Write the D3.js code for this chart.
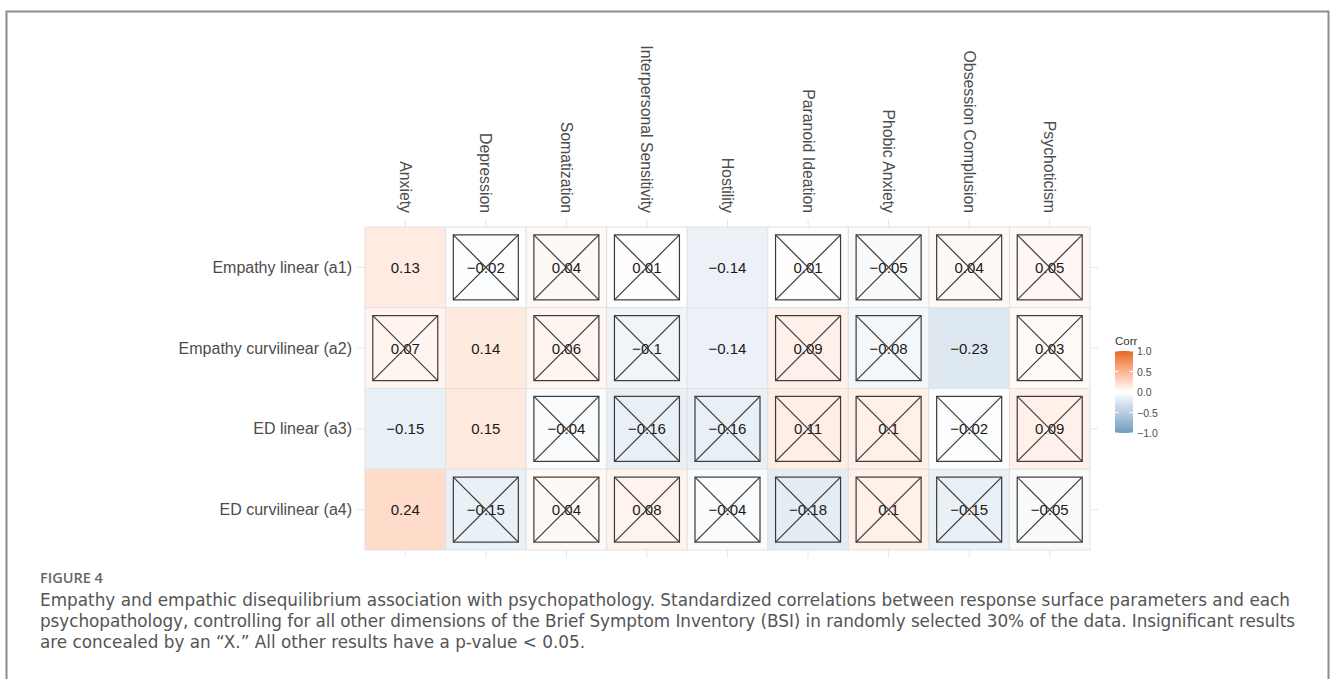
<!DOCTYPE html>
<html>
<head>
<meta charset="utf-8">
<script src="https://cdn.jsdelivr.net/npm/d3@7"></script>
<style>
  html, body { margin: 0; padding: 0; background: #ffffff; }
  svg { display: block; }
</style>
</head>
<body>
<svg id="chart" width="1330" height="679"></svg>
<script>
// Response-surface parameters (rows) and BSI dimensions (columns)
const rows = ["Empathy linear (a1)", "Empathy curvilinear (a2)", "ED linear (a3)", "ED curvilinear (a4)"];
const columns = ["Anxiety", "Depression", "Somatization", "Interpersonal Sensitivity", "Hostility",
                 "Paranoid Ideation", "Phobic Anxiety", "Obsession Complusion", "Psychoticism"];

// Standardized correlations, one array per row
const a1Values = [0.13, -0.02, 0.04, 0.01, -0.14, 0.01, -0.05, 0.04, 0.05];
const a2Values = [0.07, 0.14, 0.06, -0.1, -0.14, 0.09, -0.08, -0.23, 0.03];
const a3Values = [-0.15, 0.15, -0.04, -0.16, -0.16, 0.11, 0.1, -0.02, 0.09];
const a4Values = [0.24, -0.15, 0.04, 0.08, -0.04, -0.18, 0.1, -0.15, -0.05];

// 1 = not significant (crossed out), 0 = p < 0.05
const a1Insig = [0, 1, 1, 1, 0, 1, 1, 1, 1];
const a2Insig = [1, 0, 1, 1, 0, 1, 1, 0, 1];
const a3Insig = [0, 0, 1, 1, 1, 1, 1, 1, 1];
const a4Insig = [0, 1, 1, 1, 1, 1, 1, 1, 1];

const legendTicks = [1.0, 0.5, 0.0, -0.5, -1.0];

const captionHead = "FIGURE 4";
const captionLines = [
  "Empathy and empathic disequilibrium association with psychopathology. Standardized correlations between response surface parameters and each",
  "psychopathology, controlling for all other dimensions of the Brief Symptom Inventory (BSI) in randomly selected 30% of the data. Insignificant results",
  "are concealed by an \u201CX.\u201D All other results have a p-value < 0.05."
];

const valueRows = [a1Values, a2Values, a3Values, a4Values];
const insigRows = [a1Insig, a2Insig, a3Insig, a4Insig];
const cells = [];
rows.forEach((r, i) => columns.forEach((c, j) => {
  cells.push({ row: r, col: c, value: valueRows[i][j], insig: insigRows[i][j] === 1 });
}));

const svg = d3.select("#chart");
const axisFont = "'Liberation Sans', Arial, Helvetica, sans-serif";
const captionFont = "'DejaVu Sans', 'Open Sans', sans-serif";
const headFont = "'Open Sans', Lato, sans-serif";

// Outer frame (open at the bottom)
svg.append("path")
  .attr("d", "M6.5,679 L6.5,11.5 L1328.5,11.5 L1328.5,679")
  .attr("fill", "none")
  .attr("stroke", "#8c8c8c")
  .attr("stroke-width", 2);

const x = d3.scaleBand().domain(columns).range([365, 1090]).padding(0);
const y = d3.scaleBand().domain(rows).range([227, 550]).padding(0);
const color = d3.scaleLinear().domain([-1, 0, 1])
  .range(["#6D9EC1", "#FFFFFF", "#E46726"])
  .interpolate(d3.interpolateLab);

const fmt = v => (v < 0 ? "\u2212" : "") + String(Math.abs(v));

// Grid lines peeking out around the tiles
const gridColor = "#e6e6e6";
const ext = 8;
const g = svg.append("g");
columns.forEach(c => {
  const cx = x(c) + x.bandwidth() / 2;
  g.append("line").attr("x1", cx).attr("x2", cx).attr("y1", y.range()[0] - ext).attr("y2", y.range()[1] + ext)
    .attr("stroke", gridColor).attr("stroke-width", 1);
});
rows.forEach(r => {
  const cy = y(r) + y.bandwidth() / 2;
  g.append("line").attr("x1", x.range()[0] - ext).attr("x2", x.range()[1] + ext).attr("y1", cy).attr("y2", cy)
    .attr("stroke", gridColor).attr("stroke-width", 1);
});

// Tiles
const tiles = svg.append("g").selectAll("g").data(cells).join("g")
  .attr("transform", d => `translate(${x(d.col)},${y(d.row)})`);

tiles.append("rect")
  .attr("width", x.bandwidth())
  .attr("height", y.bandwidth())
  .attr("fill", d => color(d.value))
  .attr("stroke", "#e2e2e2")
  .attr("stroke-width", 1);

tiles.append("text")
  .attr("x", x.bandwidth() / 2)
  .attr("y", y.bandwidth() / 2)
  .attr("text-anchor", "middle")
  .attr("dominant-baseline", "central")
  .attr("font-family", axisFont)
  .attr("font-size", 15)
  .attr("fill", "#1a1a1a")
  .text(d => fmt(d.value));

// Crossed box over non-significant correlations
const box = 65;
const crossed = tiles.filter(d => d.insig).append("g")
  .attr("transform", `translate(${x.bandwidth() / 2 - box / 2},${y.bandwidth() / 2 - box / 2})`)
  .attr("stroke", "#3a3a3a").attr("stroke-width", 1.2).attr("fill", "none");
crossed.append("rect").attr("width", box).attr("height", box);
crossed.append("line").attr("x1", 0).attr("y1", 0).attr("x2", box).attr("y2", box);
crossed.append("line").attr("x1", box).attr("y1", 0).attr("x2", 0).attr("y2", box);

// Row labels
svg.append("g").selectAll("text").data(rows).join("text")
  .attr("x", 352)
  .attr("y", d => y(d) + y.bandwidth() / 2)
  .attr("text-anchor", "end")
  .attr("dominant-baseline", "central")
  .attr("font-family", axisFont)
  .attr("font-size", 16)
  .attr("fill", "#4d4d4d")
  .text(d => d);

// Column labels, rotated to read downward
svg.append("g").selectAll("text").data(columns).join("text")
  .attr("transform", d => `translate(${x(d) + x.bandwidth() / 2},213) rotate(90)`)
  .attr("text-anchor", "end")
  .attr("dominant-baseline", "central")
  .attr("font-family", axisFont)
  .attr("font-size", 15.8)
  .attr("fill", "#4d4d4d")
  .text(d => d);

// Colour bar legend
const barX = 1115, barW = 18;
const ly = d3.scaleLinear().domain([-1, 1]).range([433, 351]);
const defs = svg.append("defs");
const grad = defs.append("linearGradient").attr("id", "corrGrad")
  .attr("x1", 0).attr("y1", 1).attr("x2", 0).attr("y2", 0);
d3.range(0, 1.0001, 0.05).forEach(t => {
  grad.append("stop").attr("offset", t).attr("stop-color", color(-1 + 2 * t));
});
svg.append("rect")
  .attr("x", barX).attr("y", ly(1)).attr("width", barW).attr("height", ly(-1) - ly(1))
  .attr("fill", "url(#corrGrad)");
const lt = svg.append("g");
legendTicks.forEach(v => {
  lt.append("line").attr("x1", barX).attr("x2", barX + 3.6).attr("y1", ly(v)).attr("y2", ly(v))
    .attr("stroke", "#ffffff").attr("stroke-width", 1);
  lt.append("line").attr("x1", barX + barW - 3.6).attr("x2", barX + barW).attr("y1", ly(v)).attr("y2", ly(v))
    .attr("stroke", "#ffffff").attr("stroke-width", 1);
});
svg.append("g").selectAll("text").data(legendTicks).join("text")
  .attr("x", barX + barW + 4)
  .attr("y", d => ly(d))
  .attr("dominant-baseline", "central")
  .attr("font-family", axisFont)
  .attr("font-size", 10.5)
  .attr("fill", "#4d4d4d")
  .text(d => (d < 0 ? "\u2212" : "") + Math.abs(d).toFixed(1));
svg.append("text")
  .attr("x", barX).attr("y", 345)
  .attr("font-family", axisFont)
  .attr("font-size", 11.5)
  .attr("fill", "#333333")
  .text("Corr");

// Caption
svg.append("text")
  .attr("x", 40).attr("y", 583)
  .attr("font-family", headFont)
  .attr("font-size", 14.5)
  .attr("font-weight", 600)
  .attr("fill", "#666666")
  .text(captionHead);

// Size the caption body so the first line fills the text block width
const blockWidth = 1250;
const probe = svg.append("text")
  .attr("font-family", captionFont).attr("font-size", 18)
  .text(captionLines[0]);
const probeW = probe.node().getComputedTextLength();
probe.remove();
const capSize = Math.min(17.8, 18 * blockWidth / probeW);

const capLen = [1250, 1255, null];
captionLines.forEach((line, i) => {
  const t = svg.append("text")
    .attr("x", 40).attr("y", 606 + i * 21)
    .attr("font-family", captionFont)
    .attr("font-size", capSize)
    .attr("fill", "#555555")
    .text(line);
  if (capLen[i]) t.attr("textLength", capLen[i]).attr("lengthAdjust", "spacing");
});
</script>
</body>
</html>
